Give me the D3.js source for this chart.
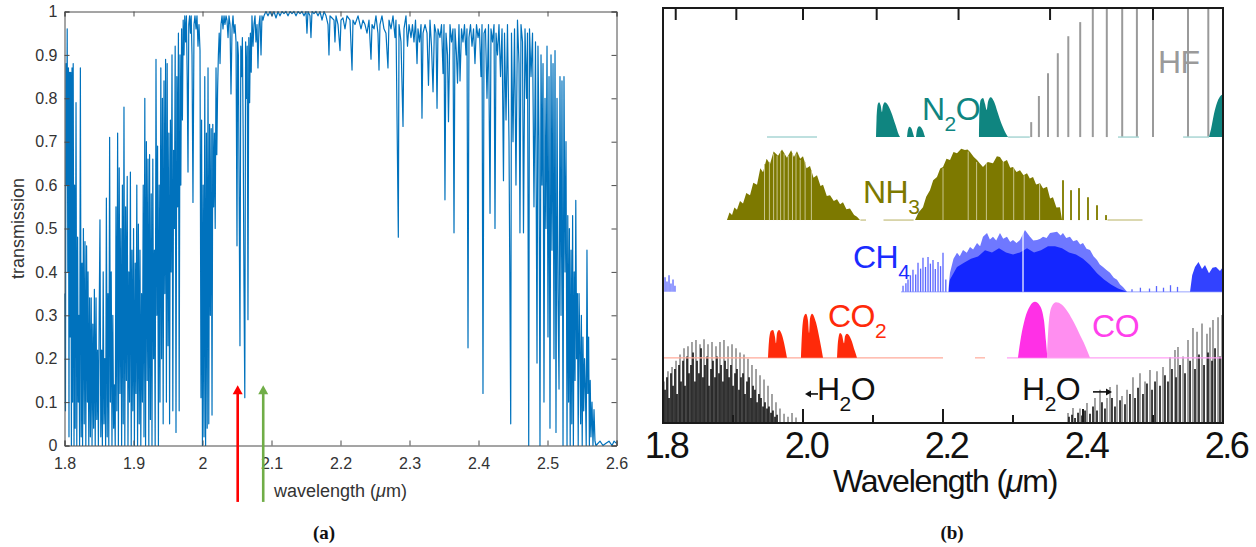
<!DOCTYPE html>
<html>
<head>
<meta charset="utf-8">
<script src="https://d3js.org/d3.v7.min.js"></script>
<style>
  body { margin: 0; background: #fff; }
  text { font-family: "Liberation Sans", Arial, sans-serif; }
</style>
</head>
<body>
<svg id="fig" width="1256" height="547"></svg>
<script>

// ---------- panel (a): atmospheric transmission, [wavelength um, transmission] ----------
var transShort = [
  [1.8007,.35],[1.8014,.08],[1.8022,.88],[1.8030,.60],[1.8039,.96],[1.8048,.40],[1.8057,.87],[1.8065,.02],
  [1.8074,.86],[1.8083,.25],[1.8091,.86],[1.8100,.00],[1.8109,.87],[1.8117,.10],[1.8126,.88],[1.8138,.00],
  [1.8146,.60],[1.8155,.04],[1.8167,.79],[1.8178,.00],[1.8190,.48],[1.8199,.10],[1.8210,.30],[1.8219,.00],
  [1.8230,.87],[1.8242,.02],[1.8254,.42],[1.8262,.00],[1.8274,.50],[1.8286,.05],[1.8297,.47],[1.8309,.00],
  [1.8320,.46],[1.8332,.10],[1.8341,.40],[1.8352,.00],[1.8364,.34],[1.8375,.02],[1.8387,.34],[1.8399,.00],
  [1.8410,.28],[1.8422,.04],[1.8433,.36],[1.8445,.00],[1.8457,.34],[1.8468,.06],[1.8480,.22],[1.8491,.00],
  [1.8503,.30],[1.8514,.52],[1.8526,.02],[1.8538,.22],[1.8549,.00],[1.8561,.40],[1.8572,.05],[1.8584,.20],
  [1.8596,.00],[1.8607,.57],[1.8619,.02],[1.8630,.35],[1.8642,.00],[1.8654,.71],[1.8665,.10],[1.8677,.40],
  [1.8688,.00],[1.8700,.30],[1.8712,.04],[1.8723,.14],[1.8735,.00],[1.8746,.55],[1.8758,.08],[1.8770,.72],
  [1.8781,.00],[1.8793,.64],[1.8804,.12],[1.8816,.50],[1.8828,.00],[1.8839,.60],[1.8851,.05],[1.8862,.78],
  [1.8874,.00],[1.8886,.55],[1.8897,.15],[1.8909,.62],[1.8920,.00],[1.8932,.40],[1.8943,.10],[1.8955,.63],
  [1.8967,.00],[1.8978,.45],[1.8990,.08],[1.9001,.50],[1.9013,.00],[1.9025,.42],[1.9036,.12],[1.9048,.60],
  [1.9059,.00],[1.9071,.51],[1.9083,.05],[1.9094,.45],[1.9106,.00],[1.9117,.35],[1.9129,.10],[1.9141,.60],
  [1.9152,.02],[1.9164,.80],[1.9175,.00],[1.9187,.70],[1.9199,.15],[1.9210,.66],[1.9222,.00],[1.9233,.67],
  [1.9245,.06],[1.9257,.58],[1.9268,.00],[1.9280,.66],[1.9291,.20],[1.9303,.45],[1.9314,.00],[1.9326,.89],
  [1.9338,.30],[1.9349,.69],[1.9361,.00]
];
var transEdge = [
  [1.9372,.60],[1.9384,.10],[1.9396,.87],[1.9407,.20],[1.9419,.80],[1.9430,.05],[1.9442,.84],[1.9454,.35],
  [1.9465,.89],[1.9477,.10],[1.9488,.88],[1.9500,.23],[1.9512,.72],[1.9523,.05],[1.9535,.75],[1.9546,.40],
  [1.9558,.90],[1.9570,.08],[1.9581,.68],[1.9593,.50],[1.9604,.92],[1.9616,.03],[1.9628,.85],[1.9639,.55],
  [1.9651,.95],[1.9662,.08],[1.9674,.90],[1.9686,.60],[1.9697,.96],[1.9709,.75],[1.9720,.98],[1.9732,.90],
  [1.9743,.99],[1.9755,.93],[1.9767,.99],[1.9778,.85],[1.9790,.63],[1.9801,.97],[1.9813,.99],[1.9825,.95],
  [1.9836,.99],[1.9848,.90],[1.9862,.56],[1.9877,.97],[1.9891,.99],[1.9906,.96],[1.9920,.99],[1.9935,.92],
  [1.9949,.97],[1.9964,.91],[1.9978,.11],[1.9987,.75],[1.9999,.00],[2.0010,.60],[2.0022,.02],[2.0033,.85],
  [2.0045,.00],[2.0057,.72],[2.0068,.04],[2.0080,.87],[2.0091,.05],[2.0103,.74],[2.0114,.30],[2.0126,.73],
  [2.0138,.07],[2.0149,.74],[2.0161,.55],[2.0172,.72],[2.0184,.50],[2.0196,.87],[2.0207,.67],[2.0219,.82],
  [2.0230,.90],[2.0242,.95],[2.0254,.88],[2.0268,.97],[2.0283,.99],[2.0297,.96],[2.0312,.99],[2.0326,.97],
  [2.0341,.99],[2.0355,.98],[2.0370,.94],[2.0384,.99],[2.0399,.97],[2.0413,.81],[2.0428,.96],[2.0442,.99],
  [2.0457,.95],[2.0471,.97],[2.0486,.93],[2.0500,.46],[2.0509,.93],[2.0520,.90],[2.0532,.55],[2.0543,.23],
  [2.0555,.92],[2.0567,.85],[2.0578,.94],[2.0590,.70],[2.0601,.37],[2.0613,.11],[2.0625,.93],[2.0636,.80],
  [2.0648,.92],[2.0659,.29],[2.0671,.94],[2.0683,.79],[2.0694,.95],[2.0706,.86],[2.0717,.99],[2.0732,.92],
  [2.0746,.97],[2.0761,.99],[2.0775,.93],[2.0790,.97],[2.0804,.87],[2.0819,.97],[2.0833,.99],[2.0848,.90],
  [2.0862,.99],[2.0877,.98],[2.0891,.99]
];
var transWindow = [
  [2.0920,1.0],[2.0949,.99],[2.0978,1.0],[2.1007,.99],[2.1036,1.0],[2.1065,.985],[2.1094,1.0],[2.1123,.99],
  [2.1152,1.0],[2.1181,.995],[2.1210,1.0],[2.1239,.99],[2.1268,1.0],[2.1297,.995],[2.1326,1.0],[2.1355,.99],
  [2.1384,1.0],[2.1413,.995],[2.1442,1.0],[2.1471,.99],[2.1500,1.0],[2.1514,.95],[2.1529,1.0],[2.1558,.99],
  [2.1572,.94],[2.1587,1.0],[2.1616,.995],[2.1645,1.0],[2.1674,.99],[2.1703,1.0],[2.1732,.98],[2.1761,1.0],
  [2.1790,.99],[2.1819,.97],[2.1833,.90],[2.1848,.99],[2.1877,.985],[2.1906,.98],[2.1920,.93],[2.1935,.99],
  [2.1964,.97],[2.1993,.91],[2.2007,.98],[2.2036,.985],[2.2065,.96],[2.2094,.99],[2.2138,.98],[2.2167,.865],
  [2.2181,.98],[2.2210,.97],[2.2254,.99],[2.2297,.96],[2.2326,.98],[2.2355,.97],[2.2384,.95],[2.2413,.98],
  [2.2442,.89],[2.2457,.97],[2.2486,.96],[2.2514,.99],[2.2543,.95],[2.2558,.865],[2.2572,.97],[2.2601,.99],
  [2.2630,.96],[2.2659,.95],[2.2688,.87],[2.2703,.98],[2.2732,.96],[2.2761,.99],[2.2790,.94],[2.2804,.98],
  [2.2838,.48],[2.2848,.97],[2.2877,.93],[2.2906,.735],[2.2920,.96],[2.2949,.99],[2.2971,.92],[2.2993,.97],
  [2.3022,.94],[2.3043,.97],[2.3065,.93],[2.3087,.98],[2.3109,.88],[2.3123,.96],[2.3145,.93],[2.3167,.97],
  [2.3181,.754],[2.3196,.95],[2.3225,.97],[2.3254,.95],[2.3275,.83],[2.3297,.98],[2.3319,.92],[2.3341,.815],
  [2.3362,.97],[2.3384,.95],[2.3399,.777],[2.3413,.96],[2.3442,.94],[2.3464,.97],[2.3486,.857],[2.3500,.97],
  [2.3514,.566],[2.3529,.95],[2.3551,.90],[2.3565,.746],[2.3587,.97],[2.3609,.93],[2.3630,.96],[2.3645,.49],
  [2.3659,.96],[2.3681,.90],[2.3696,.835],[2.3717,.97],[2.3732,.84],[2.3754,.96],[2.3775,.93],[2.3797,.97],
  [2.3819,.90],[2.3833,.96],[2.3848,.225],[2.3862,.94],[2.3884,.97],[2.3906,.92],[2.3928,.96],[2.3949,.88],
  [2.3971,.97],[2.3993,.94]
];
var transLong = [
  [2.4014,.96],[2.4036,.85],[2.4051,.97],[2.4065,.12],[2.4080,.95],[2.4101,.96],[2.4123,.80],[2.4145,.97],
  [2.4167,.535],[2.4181,.96],[2.4203,.93],[2.4225,.97],[2.4239,.50],[2.4254,.95],[2.4275,.90],[2.4297,.97],
  [2.4319,.85],[2.4341,.96],[2.4362,.61],[2.4377,.95],[2.4399,.75],[2.4420,.97],[2.4442,.70],[2.4467,.05],
  [2.4478,.95],[2.4500,.70],[2.4522,.96],[2.4543,.60],[2.4565,.98],[2.4587,.88],[2.4601,.49],[2.4616,.97],
  [2.4638,.93],[2.4652,.49],[2.4674,.96],[2.4696,.80],[2.4710,.95],[2.4728,.00],[2.4739,.96],[2.4761,.85],
  [2.4783,.95],[2.4804,.55],[2.4826,.93],[2.4848,.19],[2.4862,.92],[2.4877,.70],[2.4891,.00],[2.4906,.90],
  [2.4920,.60],[2.4935,.88],[2.4949,.10],[2.4964,.80],[2.4978,.50],[2.4993,.92],[2.5007,.25],[2.5022,.85],
  [2.5036,.04],[2.5051,.90],[2.5065,.45],[2.5080,.88],[2.5094,.20],[2.5109,.91],[2.5123,.03],[2.5138,.80],
  [2.5152,.35],[2.5167,.13],[2.5181,.85],[2.5196,.30],[2.5210,.84],[2.5225,.00],[2.5239,.85],[2.5254,.40],
  [2.5268,.70],[2.5283,.00],[2.5294,.53],[2.5306,.10],[2.5317,.50],[2.5329,.00],[2.5341,.45],[2.5352,.05],
  [2.5364,.53],[2.5375,.00],[2.5387,.40],[2.5399,.15],[2.5410,.565],[2.5422,.20],[2.5433,.35],[2.5445,.00],
  [2.5457,.35],[2.5468,.24],[2.5480,.05],[2.5491,.30],[2.5503,.00],[2.5514,.25],[2.5525,.08],[2.5537,.20],
  [2.5549,.13],[2.5561,.00],[2.5572,.45],[2.5584,.12],[2.5596,.25],[2.5607,.00],[2.5619,.15],[2.5630,.02],
  [2.5645,.10],[2.5659,.00],[2.5674,.083],[2.5688,.01],[2.5703,.00],[2.5761,.01],[2.5804,.00],[2.5848,.005],
  [2.5891,.01],[2.5935,.00],[2.5964,.01],[2.6000,.005]
];
var xTicksA = [1.8, 1.9, 2.0, 2.1, 2.2, 2.3, 2.4, 2.5, 2.6];
var yTicksA = [0, 0.1, 0.2, 0.3, 0.4, 0.5, 0.6, 0.7, 0.8, 0.9, 1];
var laserLines = [2.051, 2.088];
var laserColors = ["#ff0000", "#70ad47"];

// ---------- panel (b): offset absorption bands, [wavelength um, height] ----------
var bandOffsets = { h2o: 0, co2: 15.7, ch4: 31.6, nh3: 48.9, n2o: 68.9 };
var hfLines = [[2.326,3.6],[2.337,9.9],[2.350,15.4],[2.364,20.2],[2.379,24.3],[2.396,27.7],
  [2.414,40],[2.434,42],[2.456,44],[2.477,45],[2.500,45],[2.550,44],[2.579,43]];
var n2oBands = [
  [[2.1043,0],[2.1050,4],[2.1070,8.0],[2.1086,8.4],[2.1110,7.6],[2.1129,6.0],[2.1140,7.4],[2.1170,8.4],
   [2.1210,7.8],[2.1260,6.0],[2.1320,3.0],[2.1370,0.5],[2.1386,0]],
  [[2.1486,0],[2.1500,1.8],[2.1520,2.5],[2.1545,2.2],[2.1570,1.0],[2.1586,0]],
  [[2.1614,0],[2.1630,1.8],[2.1660,2.6],[2.1700,2.0],[2.1743,0]],
  [[2.2514,0],[2.2520,6],[2.2540,9.0],[2.2571,9.4],[2.2600,8.0],[2.2625,6.5],[2.2643,8.5],[2.2680,9.6],
   [2.2730,8.5],[2.2780,6],[2.2840,3],[2.2900,0.8],[2.2929,0]],
  [[2.5800,0],[2.5830,2],[2.5870,5.5],[2.5920,8.5],[2.5970,10],[2.6000,10.3]]
];
var n2oWeak = [[1.9486,2.02],[2.293,2.324],[2.45,2.48],[2.543,2.58]];
var nh3Bands = [
  [[1.8914,0],[1.8950,1.8],[1.8986,1.2],[1.9020,3.0],[1.9057,2.5],[1.9100,4.6],[1.9143,4.0],[1.9190,6.5],
   [1.9243,6.0],[1.9290,9.0],[1.9343,8.5],[1.9390,12.5],[1.9429,11.5],[1.9480,14.8],[1.9529,13.5],[1.9580,16.5],
   [1.9643,15.5],[1.9700,17.0],[1.9771,15.0],[1.9830,16.8],[1.9870,15.2],[1.9914,16.6],[1.9960,14.8],[2.0000,15.4],
   [2.0050,12.5],[2.0100,13.0],[2.0150,10.2],[2.0200,10.8],[2.0250,8.2],[2.0286,8.5],[2.0340,5.8],[2.0386,6.0],
   [2.0440,4.6],[2.0486,5.0],[2.0530,3.8],[2.0571,4.3],[2.0620,2.6],[2.0671,2.8],[2.0730,1.2],[2.0771,0.8],[2.0814,0]],
  [[2.1600,0],[2.1650,1.8],[2.1714,3.1],[2.1760,5.6],[2.1814,7.2],[2.1860,9.6],[2.1914,10.4],[2.1960,12.4],
   [2.2000,12.8],[2.2050,14.8],[2.2100,14.5],[2.2150,16.4],[2.2200,16.1],[2.2260,17.2],[2.2314,16.9],[2.2350,17.0],
   [2.2386,16.4],[2.2440,15.2],[2.2486,14.5],[2.2530,13.6],[2.2571,12.8],[2.2640,14.0],[2.2714,13.7],[2.2770,15.4],
   [2.2814,15.2],[2.2860,14.0],[2.2914,14.5],[2.2960,12.6],[2.3000,12.8],[2.3050,11.6],[2.3100,12.0],[2.3150,10.8],
   [2.3200,11.3],[2.3240,10.0],[2.3286,10.4],[2.3330,8.6],[2.3386,8.9],[2.3430,7.6],[2.3486,8.0],[2.3530,5.2],
   [2.3571,5.5],[2.3620,3.0],[2.3671,3.1],[2.3700,0]]
];
var nh3Light = [[1.9450,13.5],[1.9520,14],[1.9580,16],[1.9630,15.5],[1.9680,16.5],[1.9730,16],[1.9790,15.5],
  [1.9850,16],[1.9900,16],[1.9960,14.5],[2.0030,14],[2.0120,12],
  [2.2000,12.5],[2.2360,16.5],[2.2480,14],[2.2620,13.8],[2.2860,14],[2.3010,12.5],[2.3160,10.8],[2.3380,8.8]];
var nh3Tail = [[2.3714,9.6],[2.3829,7.2],[2.3943,7.7],[2.4071,5.5],[2.4200,3.6],[2.4329,1.2]];
var nh3Weak = [[2.082,2.09],[2.115,2.158],[2.435,2.485]];
var ch4Body = [[2.2071,0],[2.2100,4.6],[2.2150,8.0],[2.2200,9.4],[2.2240,8.6],[2.2286,10.1],[2.2340,9.4],
  [2.2386,10.8],[2.2430,10.2],[2.2486,11.8],[2.2530,11.0],[2.2571,13.3],[2.2629,14.2],[2.2670,12.6],[2.2714,13.3],
  [2.2760,12.4],[2.2814,14.2],[2.2860,12.8],[2.2914,13.3],[2.2960,12.0],[2.3000,12.5],[2.3050,11.8],[2.3100,12.5],
  [2.3171,14.9],[2.3243,13.3],[2.3290,12.4],[2.3343,12.5],[2.3390,12.8],[2.3429,13.3],[2.3480,13.0],[2.3529,14.2],
  [2.3629,14.5],[2.3680,13.6],[2.3714,14.2],[2.3760,13.0],[2.3814,13.3],[2.3860,12.2],[2.3914,12.5],[2.3960,11.4],
  [2.4000,11.8],[2.4050,10.4],[2.4100,10.1],[2.4150,8.6],[2.4200,7.7],[2.4240,6.6],[2.4286,6.0],[2.4340,5.2],
  [2.4386,4.6],[2.4440,3.4],[2.4486,2.9],[2.4530,1.8],[2.4571,1.2],[2.4629,0]];
var ch4Core = [[2.2071,0],[2.2100,3],[2.2200,6],[2.2300,7],[2.2400,8],[2.2500,8.5],[2.2600,10],[2.2700,9.5],
  [2.2800,10.5],[2.2900,9.5],[2.3000,9],[2.3100,9.5],[2.3200,10.5],[2.3300,9.5],[2.3400,10],[2.3500,11],
  [2.3600,11],[2.3700,10.5],[2.3800,9.5],[2.3900,9],[2.4000,8],[2.4100,6.5],[2.4200,4.5],[2.4300,3],
  [2.4400,1.8],[2.4500,0.8],[2.4629,0]];
var ch4Lines = [[1.8029,3.5],[1.8057,2.5],[1.8086,4],[1.8114,2],[1.8143,3],[1.8171,1.5],
  [2.1429,1.5],[2.1470,2.1],[2.1500,3.0],[2.1535,4.0],[2.1571,5.3],[2.1610,4.2],[2.1643,7.0],[2.1680,5.6],
  [2.1714,8.2],[2.1750,6.0],[2.1786,8.4],[2.1820,6.8],[2.1857,7.7],[2.1890,5.5],[2.1929,7.2],[2.1965,6.2],
  [2.2000,9.4],[2.2040,3.0],
  [2.470,0.6],[2.482,1.0],[2.495,0.8],[2.505,1.4],[2.515,1.0],[2.525,1.6],[2.535,1.2]];
var ch4Gaps = [2.2071, 2.3143];
var ch4Right = [[2.5529,0],[2.5560,4],[2.5600,6],[2.5650,7.2],[2.5700,5.5],[2.5743,6.5],[2.5800,4.5],
  [2.5850,5.8],[2.5900,6],[2.5957,5],[2.6000,6]];
var co2Bands = [
  [[1.9500,0],[1.9514,4],[1.9543,6.5],[1.9571,6.7],[1.9600,5],[1.9614,3.5],[1.9629,6],[1.9657,6.7],[1.9700,5.5],[1.9743,2.5],[1.9771,0]],
  [[1.9971,0],[1.9986,6],[2.0014,10],[2.0043,10.6],[2.0071,9],[2.0086,6],[2.0100,9.5],[2.0129,10.6],[2.0186,8.5],[2.0243,4],[2.0286,0]],
  [[2.0486,0],[2.0500,4],[2.0529,6],[2.0557,5.5],[2.0586,3.5],[2.0600,5.2],[2.0629,5.8],[2.0686,4.5],[2.0743,1.5],[2.0771,0]]
];
var co2Weak = [[1.8, 2.2], [2.2457, 2.26]];
var coBranchR = [[2.3071,0],[2.3114,5],[2.3171,9.5],[2.3243,12.5],[2.3314,13.5],[2.3386,12.5],[2.3443,9],[2.3471,4],[2.3486,1]];
var coBranchP = [[2.3486,1],[2.3514,9],[2.3557,12.5],[2.3614,13.4],[2.3700,12.8],[2.3786,11],[2.3871,8.5],[2.3957,5.5],[2.4029,3],[2.4100,0]];
var coWeak = [[2.2914, 2.6]];
var h2oGray = [[1.8014,10],[1.8071,12.5],[1.8129,13.5],[1.8186,15],[1.8243,16.5],[1.8300,18],[1.8357,18.5],
  [1.8414,19.5],[1.8471,20],[1.8529,19],[1.8586,20.2],[1.8643,19],[1.8700,19.5],[1.8757,18.5],[1.8814,19.5],
  [1.8871,20],[1.8929,18.5],[1.8986,19],[1.9043,18],[1.9100,17],[1.9157,16.5],[1.9214,15.5],[1.9271,14],
  [1.9329,13],[1.9386,11.5],[1.9443,10.5],[1.9500,9],[1.9557,7],[1.9614,5],[1.9671,3.5],[1.9729,2.2],
  [1.9786,1.5],[1.9843,2.4],[1.9900,1.3],
  [2.3786,2.4],[2.3857,3.6],[2.3957,3.5],[2.4057,4.8],[2.4171,6],[2.4243,8],[2.4343,6],[2.4386,8.7],
  [2.4486,9.2],[2.4557,6.5],[2.4629,8],[2.4714,11],[2.4814,12],[2.4886,10],[2.4957,12.8],[2.5057,12.5],
  [2.5143,13.5],[2.5243,15.9],[2.5314,17.6],[2.5357,18.3],[2.5429,16],[2.5500,20],[2.5571,22.9],[2.5629,22],
  [2.5700,24],[2.5771,21.5],[2.5814,23],[2.5857,24.8],[2.5929,25.5],[2.5986,26]];
var h2oDark = [[1.8000,9],[1.8029,8],[1.8057,11],[1.8086,6],[1.8114,12],[1.8143,9],[1.8171,13],[1.8200,7],
  [1.8229,14],[1.8257,10],[1.8286,15],[1.8314,9],[1.8343,16],[1.8371,12],[1.8400,14],[1.8429,17],[1.8457,10],
  [1.8486,15],[1.8514,12],[1.8543,18],[1.8571,11],[1.8600,14],[1.8629,16],[1.8657,9],[1.8686,13],[1.8714,15],
  [1.8743,11],[1.8771,16],[1.8800,12],[1.8829,14],[1.8857,10],[1.8886,15],[1.8914,13],[1.8943,11],[1.8971,14],
  [1.9000,9],[1.9029,12],[1.9057,13],[1.9086,8],[1.9114,11],[1.9143,12],[1.9171,7],[1.9200,10],[1.9229,11],
  [1.9257,6],[1.9286,9],[1.9314,8],[1.9343,5],[1.9371,7],[1.9400,6],[1.9429,4],[1.9457,5],[1.9486,3.5],
  [1.9514,4],[1.9543,2.5],[1.9571,3],[1.9600,1.5],[1.9629,2],
  [2.3800,1.5],[2.3843,2],[2.3886,1.2],[2.3929,2.5],[2.3986,1.8],[2.4029,3],[2.4100,2.2],[2.4143,4],[2.4200,3],
  [2.4271,5],[2.4314,3.5],[2.4414,6],[2.4457,4],[2.4529,5.5],[2.4600,4.5],[2.4671,7],[2.4743,6],[2.4786,8.5],
  [2.4857,7],[2.4914,9.5],[2.4986,8],[2.5029,10],[2.5100,9],[2.5171,11.5],[2.5214,10],[2.5271,13],[2.5329,11],
  [2.5386,14],[2.5457,12],[2.5529,15],[2.5600,13],[2.5657,16.5],[2.5729,14],[2.5786,17],[2.5843,15],[2.5886,18],
  [2.5957,16],[2.6000,17]];
var xMajorB = [1.8, 2.0, 2.2, 2.4, 2.6];
var xMinorB = [1.9, 2.1, 2.3, 2.5];
var topWavenumbers = [5500, 5250, 5000, 4750, 4500, 4250, 4000];

var svg = d3.select("#fig");

// ================= panel (a) =================
var xA = d3.scaleLinear().domain([1.8, 2.6]).range([64.5, 616.5]);
var yA = d3.scaleLinear().domain([0, 1]).range([445.5, 11.5]);
var axisColor = "#4a4a4a";

var spectrum = transShort.concat(transEdge, transWindow, transLong);
svg.append("path")
    .datum(spectrum)
    .attr("fill", "none")
    .attr("stroke", "#0072bd")
    .attr("stroke-width", 1.2)
    .attr("stroke-linejoin", "round")
    .attr("d", d3.line().x(function(d) { return xA(d[0]); }).y(function(d) { return yA(d[1]); }));

var fmtA = function(d) { return String(+d.toFixed(1)); };
var gxA = svg.append("g").attr("transform", "translate(0," + yA(0) + ")")
    .call(d3.axisBottom(xA).tickValues(xTicksA).tickFormat(fmtA).tickSize(-5).tickPadding(12));
var gxA2 = svg.append("g").attr("transform", "translate(0," + yA(1) + ")")
    .call(d3.axisTop(xA).tickValues(xTicksA).tickFormat("").tickSize(-5));
var gyA = svg.append("g").attr("transform", "translate(" + xA(1.8) + ",0)")
    .call(d3.axisLeft(yA).tickValues(yTicksA).tickFormat(fmtA).tickSize(-5).tickPadding(7));
var gyA2 = svg.append("g").attr("transform", "translate(" + xA(2.6) + ",0)")
    .call(d3.axisRight(yA).tickValues(yTicksA).tickFormat("").tickSize(-5));
[gxA, gxA2, gyA, gyA2].forEach(function(g) {
  g.selectAll("path, line").attr("stroke", axisColor).attr("stroke-width", 1);
  g.selectAll("text").attr("fill", "#333").style("font-size", "16px")
    .style("font-family", "'Liberation Sans', Arial, sans-serif");
});

svg.append("text")
    .attr("transform", "translate(24," + ((yA(0) + yA(1)) / 2) + ") rotate(-90)")
    .attr("text-anchor", "middle").attr("fill", "#333").style("font-size", "18px")
    .text("transmission");

var xlabA = svg.append("text")
    .attr("x", (xA(1.8) + xA(2.6)) / 2).attr("y", 497)
    .attr("text-anchor", "middle").attr("fill", "#333").style("font-size", "18px");
xlabA.append("tspan").text("wavelength (");
xlabA.append("tspan").style("font-style", "italic").text("\u03bc");
xlabA.append("tspan").text("m)");

// laser arrows
laserLines.forEach(function(w, i) {
  var x = xA(w), top = yA(0.139), bottom = yA(-0.13);
  svg.append("line").attr("x1", x).attr("x2", x).attr("y1", top + 6).attr("y2", bottom)
      .attr("stroke", laserColors[i]).attr("stroke-width", 2.6);
  svg.append("path")
      .attr("d", "M" + (x - 5) + "," + (top + 9) + "L" + x + "," + top + "L" + (x + 5) + "," + (top + 9) + "Z")
      .attr("fill", laserColors[i]);
});

// ================= panel (b) =================
var xB = d3.scaleLinear().domain([1.8, 2.6]).range([663, 1223]);
var yB = d3.scaleLinear().domain([0, 100]).range([423, 8]);

svg.append("clipPath").attr("id", "clipB")
  .append("rect").attr("x", xB(1.8)).attr("y", yB(100)).attr("width", xB(2.6) - xB(1.8)).attr("height", yB(0) - yB(100));
var gB = svg.append("g").attr("clip-path", "url(#clipB)");

function bandArea(base) {
  return d3.area().curve(d3.curveMonotoneX)
    .x(function(d) { return xB(d[0]); })
    .y0(yB(base))
    .y1(function(d) { return yB(base + d[1]); });
}
function bandAreaLinear(base) {
  return d3.area()
    .x(function(d) { return xB(d[0]); })
    .y0(yB(base))
    .y1(function(d) { return yB(base + d[1]); });
}
function bars(data, base, color, width) {
  gB.append("g").selectAll("line").data(data).join("line")
    .attr("x1", function(d) { return xB(d[0]); })
    .attr("x2", function(d) { return xB(d[0]); })
    .attr("y1", yB(base))
    .attr("y2", function(d) { return yB(base + d[1]); })
    .attr("stroke", color).attr("stroke-width", width);
}
function weak(spans, base, color, width) {
  gB.append("g").selectAll("line").data(spans).join("line")
    .attr("x1", function(d) { return xB(d[0]); })
    .attr("x2", function(d) { return xB(d[1]); })
    .attr("y1", yB(base)).attr("y2", yB(base))
    .attr("stroke", color).attr("stroke-width", width);
}

// HF
bars(hfLines, bandOffsets.n2o, "#9a9a9a", 2);
// N2O
weak(n2oWeak, bandOffsets.n2o, "#a9d6d4", 1.5);
n2oBands.forEach(function(b) {
  gB.append("path").datum(b).attr("fill", "#0f8580").attr("d", bandArea(bandOffsets.n2o));
});
// NH3
weak(nh3Weak, bandOffsets.nh3, "#cfcb96", 1.5);
nh3Bands.forEach(function(b) {
  gB.append("path").datum(b).attr("fill", "#7d7900").attr("d", bandAreaLinear(bandOffsets.nh3));
});
bars(nh3Light, bandOffsets.nh3, "#c9c58a", 1);
bars(nh3Tail, bandOffsets.nh3, "#8a8610", 2);
// CH4
weak([[2.14, 2.6]], bandOffsets.ch4, "#9aa4ff", 1);
bars(ch4Lines, bandOffsets.ch4, "#5a66ff", 1.3);
gB.append("path").datum(ch4Body).attr("fill", "#6f78ff").attr("d", bandAreaLinear(bandOffsets.ch4));
gB.append("path").datum(ch4Core).attr("fill", "#1426ff").attr("d", bandAreaLinear(bandOffsets.ch4));
gB.append("path").datum(ch4Right).attr("fill", "#3242ff").attr("d", bandAreaLinear(bandOffsets.ch4));
bars(ch4Gaps.map(function(w) { return [w, 16]; }), bandOffsets.ch4, "#ffffff", 1.2);
// H2O
bars(h2oGray, bandOffsets.h2o, "#8c8c8c", 1.6);
bars(h2oDark, bandOffsets.h2o, "#111", 1.6);
// CO2
weak(co2Weak, bandOffsets.co2, "#ffaa9a", 1.2);
co2Bands.forEach(function(b) {
  gB.append("path").datum(b).attr("fill", "#ff2a0a").attr("d", bandArea(bandOffsets.co2));
});
// CO
weak(coWeak, bandOffsets.co2, "#ffa0f4", 1.2);
gB.append("path").datum(coBranchR).attr("fill", "#ff30e6").attr("d", bandArea(bandOffsets.co2));
gB.append("path").datum(coBranchP).attr("fill", "#ff8ef0").attr("d", bandArea(bandOffsets.co2));

// frame and ticks
var frameColor = "#1a1a1a";
svg.append("rect").attr("x", xB(1.8)).attr("y", yB(100))
    .attr("width", xB(2.6) - xB(1.8)).attr("height", yB(0) - yB(100))
    .attr("fill", "none").attr("stroke", frameColor).attr("stroke-width", 2);
var gxB = svg.append("g").attr("transform", "translate(0," + yB(0) + ")");
gxB.selectAll("line.maj").data(xMajorB).join("line").attr("class", "maj")
    .attr("x1", function(d) { return xB(d); }).attr("x2", function(d) { return xB(d); })
    .attr("y1", 0).attr("y2", -14).attr("stroke", frameColor).attr("stroke-width", 2);
gxB.selectAll("line.min").data(xMinorB).join("line").attr("class", "min")
    .attr("x1", function(d) { return xB(d); }).attr("x2", function(d) { return xB(d); })
    .attr("y1", 0).attr("y2", -8).attr("stroke", frameColor).attr("stroke-width", 2);
gxB.selectAll("text").data(xMajorB).join("text")
    .attr("x", function(d) { return xB(d) + 3; }).attr("y", 35)
    .attr("text-anchor", "middle").attr("fill", "#111")
    .style("font-size", "36px").style("letter-spacing", "-2.5px")
    .text(d3.format(".1f"));
svg.append("g").selectAll("line").data(topWavenumbers).join("line")
    .attr("x1", function(d) { return xB(1e4 / d); }).attr("x2", function(d) { return xB(1e4 / d); })
    .attr("y1", yB(100)).attr("y2", yB(100) + 12).attr("stroke", frameColor).attr("stroke-width", 2);

var xlabB = svg.append("text")
    .attr("x", 945).attr("y", 492)
    .attr("text-anchor", "middle").attr("fill", "#111")
    .style("font-size", "32px").style("letter-spacing", "-1.2px");
xlabB.append("tspan").text("Wavelength (");
xlabB.append("tspan").style("font-style", "italic").text("\u03bc");
xlabB.append("tspan").text("m)");

// species labels
function species(w, u, main, sub, rest, color) {
  var t = svg.append("text").attr("x", xB(w)).attr("y", yB(u)).attr("fill", color)
      .style("font-size", "32px").style("letter-spacing", "-0.5px");
  t.append("tspan").text(main);
  if (sub) t.append("tspan").attr("dy", 11).style("font-size", "21px").text(sub);
  if (rest) t.append("tspan").attr("dy", -11).text(rest);
  return t;
}
species(2.5071, 84.3, "HF", null, null, "#9a9a9a");
species(2.170, 73.0, "N", "2", "O", "#0f8580");
species(2.0857, 53.0, "NH", "3", null, "#7d7900");
species(2.0714, 37.3, "CH", "4", null, "#1a2cff");
species(2.0357, 23.1, "CO", "2", null, "#ff2a0a");
species(2.4129, 20.7, "CO", null, null, "#ff40ec");
species(2.020, 5.5, "H", "2", "O", "#111");
species(2.3129, 5.5, "H", "2", "O", "#111");

// H2O direction arrows
function hArrow(w0, w1, u) {
  var x0 = xB(w0), x1 = xB(w1), y = yB(u), dir = x1 > x0 ? 1 : -1;
  svg.append("line").attr("x1", x0).attr("x2", x1 - dir * 4).attr("y1", y).attr("y2", y)
      .attr("stroke", "#111").attr("stroke-width", 1.6);
  svg.append("path")
      .attr("d", "M" + x1 + "," + y + "L" + (x1 - dir * 6) + "," + (y - 3.5) + "L" + (x1 - dir * 6) + "," + (y + 3.5) + "Z")
      .attr("fill", "#111");
}
hArrow(2.0214, 2.0029, 7.0);
hArrow(2.4143, 2.4414, 7.5);

// panel captions
svg.append("text").attr("x", 324).attr("y", 539).attr("text-anchor", "middle")
    .style("font-family", "'Liberation Serif', serif").style("font-weight", "bold").style("font-size", "19px")
    .attr("fill", "#111").text("(a)");
svg.append("text").attr("x", 952).attr("y", 539).attr("text-anchor", "middle")
    .style("font-family", "'Liberation Serif', serif").style("font-weight", "bold").style("font-size", "19px")
    .attr("fill", "#111").text("(b)");

</script>
</body>
</html>
